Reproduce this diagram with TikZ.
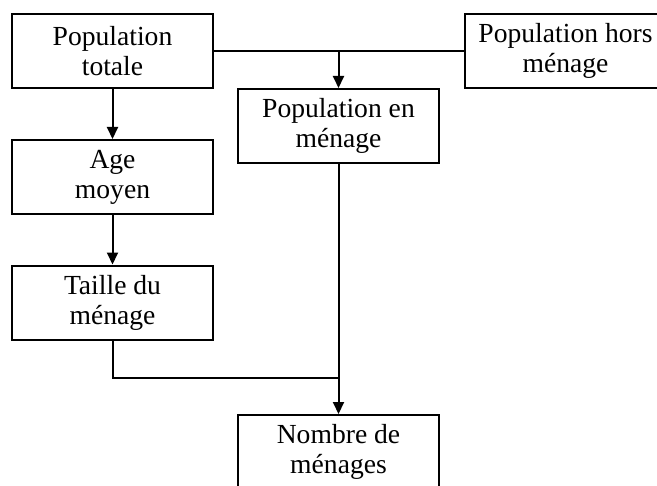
\documentclass[tikz,border=0pt]{standalone}
\usepackage{fontspec}
\setmainfont{Liberation Serif}
\usetikzlibrary{arrows.meta}
\tikzset{
  boite/.style={draw, line width=1pt, minimum width=100.5pt, minimum height=37pt,
    align=center, inner sep=0pt, font=\fontsize{13.8}{15}\selectfont},
  fleche/.style={line width=1pt, -{Triangle[length=6pt,width=5.5pt]}},
  trait/.style={line width=1pt}
}

\begin{document}
\begin{tikzpicture}[x=0.5pt,y=-0.5pt]
		\useasboundingbox (0,0) rectangle (657,486);
		\clip (0,0) rectangle (657,486);
		%les boites
		\node[boite] (tot) at (112.5,51) {Population\\totale};
		\node[boite] (hors) at (565.5,51) {Population hors\\m\'enage};
		\node[boite] (en) at (338.5,126) {Population en\\m\'enage};
		\node[boite] (age) at (112.5,177) {Age\\moyen};
		\node[boite] (taille) at (112.5,302.5) {Taille du\\m\'enage};
		\node[boite] (nombre) at (338.5,452) {Nombre de\\m\'enages};
		
		%les liens
		\coordinate (haut) at (en.north |- tot.east);
		\coordinate (bas) at (en.south |- 0,378);
		\draw[trait] (tot.east) -- (hors.west);
		\draw[fleche] (haut) -- (en.north);
		\draw[fleche] (tot) -- (age);
		\draw[fleche] (age) -- (taille);
		\draw[trait] (taille.south) |- (bas);
		\draw[fleche] (en.south) -- (nombre.north);
	\end{tikzpicture}
\end{document}
